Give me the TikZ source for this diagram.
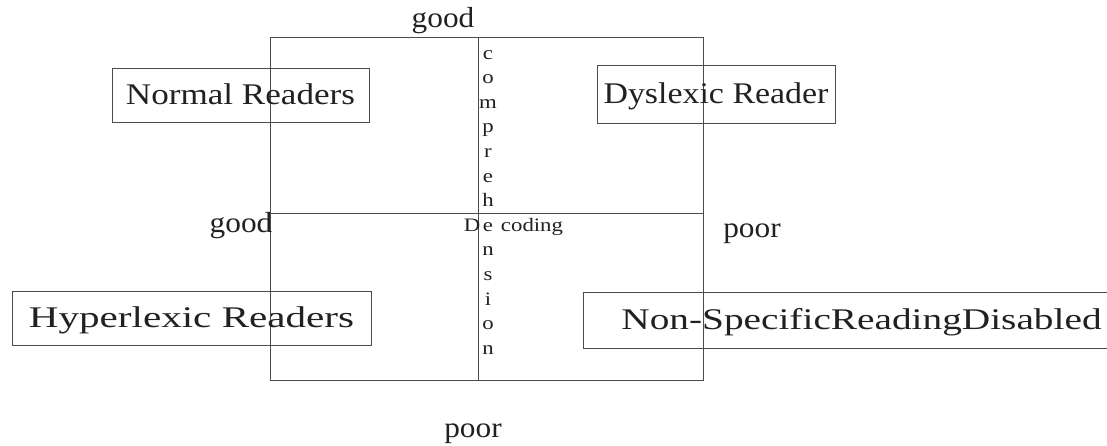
\documentclass[tikz,border=0pt]{standalone}
\usepackage{fontspec}
\setmainfont{Liberation Serif}
\definecolor{linegray}{gray}{0.3}
\definecolor{ink}{gray}{0.13}
\begin{document}
\begin{tikzpicture}[x=1pt,y=-1pt,
  frame/.style={draw=linegray,line width=1pt},
  box/.style={draw=linegray,line width=1pt,inner sep=0pt,text=ink,
    text height=22pt,text depth=4pt,font=\fontsize{30}{32}\selectfont},
  lbl/.style={anchor=base,inner sep=0pt,text=ink,font=\fontsize{29}{31}\selectfont},
  lett/.style={anchor=base,inner sep=0pt,text=ink,font=\fontsize{19}{21}\selectfont}]
\useasboundingbox (0,0) rectangle (1107,445);
\clip (0,0) rectangle (1107,445);
% main frame and axes
\coordinate (tl) at (270,37);
\coordinate (br) at (703,380);
\coordinate (vt) at (478,37);
\coordinate (vb) at (478,380);
\coordinate (hl) at (270,213);
\coordinate (hr) at (703,213);
\draw[frame] (tl) rectangle (br);
\draw[frame] (vt) -- (vb);
\draw[frame] (hl) -- (hr);
% quadrant boxes
\node[box,minimum width=257pt,minimum height=54pt] (normal) at (240.5,95) {\scalebox{1.17}[1]{Normal Readers}};
\node[box,minimum width=238pt,minimum height=58pt] (dyslexic) at (716,94) {\scalebox{1.13}[1]{Dyslexic Reader}};
\node[box,minimum width=359pt,minimum height=54pt] (hyper) at (191.5,318) {\scalebox{1.37}[1]{Hyperlexic Readers}};
\node[box,minimum width=557pt,minimum height=56pt] (nonspec) at (861.5,320) {\scalebox{1.31}[1]{Non-SpecificReadingDisabled}};
% axis labels
\node[lbl] (goodtop) at (443,27) {\scalebox{1.08}[1]{good}};
\node[lbl] (goodleft) at (241,232) {\scalebox{1.08}[1]{good}};
\node[lbl] (poorright) at (752,237) {\scalebox{1.08}[1]{poor}};
\node[lbl] (poorbottom) at (473,437) {\scalebox{1.08}[1]{poor}};
% vertical "comprehension"
\foreach \ch [count=\i from 0] in {c,o,m,p,r,e,h,e,n,s,i,o,n}
  \node[lett] (comp\i) at (488,59+24.6*\i) {\scalebox{1.2}[1]{\ch}};
% "De coding"
\node[lett] (decD) at (472,231.2) {\scalebox{1.2}[1]{D}};
\node[lett] (decoding) at (532,231.2) {\scalebox{1.2}[1]{coding}};
\end{tikzpicture}
\end{document}
